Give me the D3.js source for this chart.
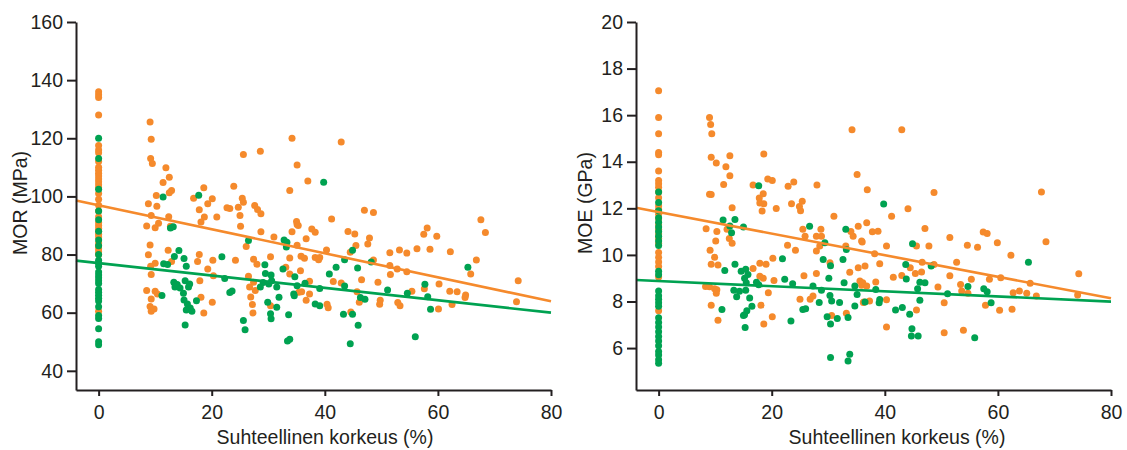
<!DOCTYPE html>
<html>
<head>
<meta charset="utf-8">
<script src="https://cdn.jsdelivr.net/npm/d3@7"></script>
<style>
  html, body { margin: 0; padding: 0; background: #fff; }
  svg { display: block; }
  text { font-family: "Liberation Sans", Arial, Helvetica, sans-serif; fill: #231f20; }
</style>
</head>
<body>
<svg id="chart" width="1127" height="450"></svg>
<script>
// Relative height (%) vs. strength/stiffness, two groups (orange, green)
const xTicks = [0, 20, 40, 60, 80];
const morTicks = [40, 60, 80, 100, 120, 140, 160];
const moeTicks = [6, 8, 10, 12, 14, 16, 18, 20];

// MOR (MPa)
const morOrange = [
  [0,136],[0,135],[0,134],[0,128],[0,117.5],[0,116],[0,115],[0,112],[0,110],[0,109],[0,108],[0,107],[0,106],
  [0,105],[0,104],[0,103],[0,101],[0,99],[0,97],[0,95],[0,93],[0,91],[0,90],[0,89],[0,88],[0,87],[0,86],
  [0,84],[0,83],[0,82],[0,81],[0,80],[0,60.5],
  [9.1,125.6],[9.3,119.7],[9.2,113],[9.5,111.3],[11.9,109.9],[12.5,106.6],[11.4,104.8],[12.9,102],[12.5,101.3],
  [10.2,100.3],[8.8,97.5],[10.3,96.6],[9.3,93.4],[12.4,93],[8.5,89.8],[10.6,90.8],[10,89.2],[12.7,89.7],
  [9.1,83.3],[8.8,79.9],[12.3,81.5],[10,77],[9.2,76],[9.3,73.1],[12.9,77.6],[8.5,67.6],[10,67.4],[10.4,66.4],
  [9.3,64.7],[9.1,62.1],[9.8,61.3],[9.3,60.5],[16.8,99.4],[18.6,103],[19.3,97.5],[20.1,99.2],[17.8,95.4],
  [18.7,92.9],[20.9,92.9],[18.1,91.2],[22.7,96.1],[23.2,95.8],[23.9,103.5],[25.6,114.4],[28.6,115.5],[24.7,96.3],
  [25.6,98],[25.4,99.4],[27.6,96.9],[28.1,95.5],[28.7,94],[25.1,89.7],[25,93.4],[28.7,87.8],[31,86],[26.1,82.8],
  [34.2,120],[35.1,110.8],[33.8,102],[34.2,87.8],[35.1,90.3],[33.1,75.6],[33.8,78.8],[30.4,79.2],[24.2,78],
  [27.4,78.4],[28,76.7],[17.8,80],[17.5,77.6],[19.3,75],[20.2,78],[20.3,72.7],[17.9,71],[26.5,72.5],[27.4,70.5],
  [26.7,68.8],[27.7,67.6],[26.9,65.4],[27.2,62.8],[27.3,59.9],[20.1,63.6],[18.6,59.9],[18.1,65.3],[30.4,62.4],
  [35.4,67],[42.9,118.7],[37,105.3],[47,95.2],[48.6,94.5],[41.2,92.2],[35,91.4],[35.3,90],[37.7,88.8],
  [38.3,87.7],[36.7,85.4],[44.1,87.9],[45.3,87.1],[47.9,85.7],[47.6,83.6],[45.5,83.1],[44.5,80.8],[40.3,81.6],
  [35.1,83.2],[35.8,79.4],[36.4,78.7],[38.3,79],[39.1,79],[38.9,78.2],[48.6,78.1],[51.5,80.6],[53.2,81.6],
  [54.5,80.5],[56.3,82],[57.5,87],[58.1,89.1],[59.8,86.3],[58.6,81.8],[62.2,81],[67.6,92],[68.4,87.6],
  [66.8,78.1],[65.8,73.3],[60.2,69.9],[62.1,67.4],[63.4,67.2],[64.9,66.1],[64.8,65.2],[62.5,62.8],[60.1,61.3],
  [74.2,71],[73.9,63.8],[51.5,76.2],[52.8,75],[54.5,74.1],[51.6,73.1],[55.4,67.4],[57.6,68.2],[49.4,70.5],
  [46.5,71.3],[42.9,70.2],[41.5,70.7],[37.3,70.8],[35.7,74.4],[33.8,73.3],[35.9,67.2],[37.3,66.4],[36.7,64.3],
  [40.4,62.9],[40.6,61.7],[44.6,60.2],[45.7,67.2],[46.1,63.6],[49.8,64.3],[49.7,62.9],[52.9,63.5],[53.3,62.4]
];
const morGreen = [
  [0,120],[0,113],[0,102.5],[0,95],[0,92],[0,88],[0,85],[0,83],[0,80],[0,78],[0,77],[0,76],[0,74],[0,73],
  [0,72],[0,71],[0,70],[0,68],[0,67],[0,66],[0,65],[0,64],[0,62],[0,59],[0,58],[0,54.5],[0,50],[0,49],
  [11.4,99.8],[17.7,100.4],[12.7,89.1],[13.2,89.6],[14.2,81.4],[13.4,79.3],[15.1,78.6],[15.5,76],[11.5,76.8],
  [12.2,76.6],[11.2,65.9],[13.3,70.5],[13.9,69.7],[13.5,68.8],[14.4,68.5],[15.3,71],[16.1,69.9],[15.9,68.8],
  [15,66.7],[15.1,64.4],[15.7,63],[16.2,61.6],[15.5,60.9],[16.5,60.5],[17.3,64.1],[15.3,55.8],[21.8,79.2],
  [22.3,71.8],[23.6,67.5],[23.2,66.9],[26.5,84.8],[29.4,76.5],[29.5,73.5],[29.1,70.4],[30.5,73],[30.6,71],
  [30.1,69.9],[28.6,68.8],[29.9,63.6],[30.4,59.6],[30.5,57.9],[25.6,57.3],[25.9,54.1],[31.5,68.8],[31.9,65.3],
  [31.5,61.9],[32.6,75],[32.8,85],[33.3,84.2],[33.6,59.3],[33.8,50.9],[33.4,50.3],[34.5,66.4],[35.1,69.3],
  [39.8,104.9],[33.2,82.6],[44.9,81.5],[43.5,78.2],[42,75.6],[40.8,73.3],[45.8,75.4],[48.2,77.4],[34.7,72.4],
  [36.5,70.1],[34.6,65.8],[39.1,68.3],[43.5,69.2],[38.3,63],[39.1,62.4],[43.3,59.5],[44.9,59.5],[45.9,55.7],
  [46.3,65.2],[47.1,64.6],[51.1,67.8],[54.6,66.7],[57.7,69.8],[58.2,65.5],[58.7,61.2],[65.3,75.6],[56,51.7],
  [44.5,49.3]
];

// MOE (GPa)
const moeOrange = [
  [0,17.05],[0,15.9],[0,15.2],[0,14.4],[0,14.3],[0,13.6],[0,13.2],[0,13.05],[0,12.9],[0,12.7],[0,12.45],
  [0,12.1],[0,11.95],[0,11.75],[0,11.55],[0,11.3],[0,11.1],[0,10.9],[0,10.7],[0,10.5],[0,10.1],[0,9.9],
  [0,9.7],[0,9.5],[0,9.05],[0,7.6],
  [9.0,15.9],[9.2,15.6],[9.4,15.2],[9.3,14.19],[10.2,13.95],[12.6,14.26],[11.9,13.78],[12.6,13.4],[11.5,13.02],
  [9.0,12.6],[9.3,12.59],[18.6,14.33],[19.3,13.26],[20.1,13.2],[16.7,13],[17.8,12.44],[18.5,12.63],[17.9,12.23],
  [18.6,12.2],[18.3,11.88],[20.8,11.99],[13.0,12.02],[22.9,12.95],[23.9,13.13],[28.0,13],[23.5,12.2],[25.4,12.3],
  [24.9,12.08],[25.1,11.9],[31,11.66],[34.2,15.37],[35.1,13.45],[36.9,12.8],[36.8,11.38],[35.3,11.23],[34.4,10.8],
  [34,11.0],[35.9,10.6],[33.1,10.38],[25.5,11.1],[25.9,10.8],[27.9,10.8],[28.7,11.1],[28.8,10.8],[28.5,10.38],
  [27.9,10.17],[22.8,10.42],[24.2,10.2],[8.4,11.12],[10.3,11.0],[10.1,10.6],[12.1,11.1],[12.5,10.7],[13.0,10.5],
  [9.1,10.2],[9.9,9.9],[9.3,9.6],[10.5,9.57],[20.2,9.86],[17.9,9.64],[19.0,9.6],[17.9,9.08],[18.5,9.0],[20.4,8.9],
  [16.7,9.42],[8.3,8.64],[9.0,8.63],[9.9,8.55],[10.3,8.5],[10.2,8.35],[9.3,7.84],[10.5,7.2],[19.4,8.38],[18.1,7.84],
  [20.1,7.35],[18.6,7.03],[25.7,9.1],[27.9,9.2],[27.3,8.24],[26.8,8.1],[25.0,8.1],[30.3,9.66],[30.6,7.4],[33.2,7.49],
  [33.8,9.26],[35.3,9.45],[35.6,8.88],[35.9,8.7],[36.2,7.96],
  [43,15.37],[48.7,12.68],[67.7,12.7],[44.1,11.98],[41.2,11.66],[37.8,10.99],[38.8,11.02],[47.1,11.13],[36,10.55],
  [40.3,10.38],[45.6,10.38],[47.8,10.38],[51.5,10.75],[54.6,10.42],[56.4,10.33],[57.4,10.98],[58.1,10.92],
  [59.9,10.52],[62.3,9.99],[68.5,10.56],[74.3,9.19],[74.1,8.28],[38.2,10.05],[39.1,9.62],[36.5,9.52],[46.6,9.69],
  [48.7,9.59],[52.7,9.69],[44.5,9.45],[45.4,9.2],[46.5,9.27],[41.5,9.04],[43,9.12],[51.5,9.1],[55.3,8.95],
  [58.5,8.95],[60.5,9.02],[65.7,8.78],[36.1,8.81],[36.8,8.67],[38.4,8.84],[49.4,8.62],[53.4,8.73],[53.6,8.45],
  [54.7,8.35],[62.7,8.38],[63.8,8.45],[65.1,8.35],[66.8,8.24],[36.3,7.98],[37.3,8.02],[40.3,8.07],[50.5,7.95],
  [45.6,7.64],[57.8,7.84],[60.3,7.62],[62.5,7.67],[40.3,6.9],[50.5,6.66],[53.9,6.76]
];
const moeGreen = [
  [0,12.7],[0,12.25],[0,11.9],[0,11.6],[0,11.4],[0,11.2],[0,11.0],[0,10.8],[0,10.6],[0,10.4],[0,9.3],[0,9.15],
  [0,8.45],[0,8.25],[0,8.1],[0,7.95],[0,7.8],[0,7.3],[0,7.1],[0,6.9],[0,6.7],[0,6.5],[0,6.3],[0,6.1],[0,5.85],
  [0,5.7],[0,5.5],[0,5.35],
  [17.7,12.97],[11.4,11.5],[13.5,11.52],[12.6,11.24],[12.9,10.95],[15.0,11.2],[26.7,11.23],[29.4,10.52],[33.1,11.1],
  [33.2,10.23],[29.1,9.8],[30.4,9.54],[30.1,9.0],[32.6,9.8],[32.8,8.8],[34.7,8.66],[35.1,8.3],[21.9,9.84],
  [22.3,8.95],[23.7,8.76],[11.7,9.33],[13.5,9.6],[14.6,9.3],[15.4,9.38],[15.8,9.16],[15.2,9.0],[15.5,8.8],
  [17.3,8.83],[17.7,8.72],[13.3,8.48],[14.3,8.44],[15.4,8.48],[13.8,8.2],[16.1,8.15],[16.5,7.8],[15.6,7.6],
  [15.2,7.43],[15.0,7.4],[11.2,7.66],[15.3,6.88],[23.4,7.16],[25.5,7.66],[26.0,7.69],[27.3,8.66],[28.8,8.48],
  [28.4,7.96],[30.3,8.26],[30.6,8.02],[32.0,7.96],[31.6,7.27],[29.8,7.34],[30.4,7.03],[33.5,7.31],[30.4,5.6],
  [33.8,5.74],[33.5,5.45],
  [39.8,12.19],[44.9,10.48],[43.7,9.59],[48.2,9.52],[43.8,8.97],[46.2,8.83],[47.1,8.8],[45.8,8.55],[38.4,8.52],
  [36.5,7.98],[39.1,8.09],[39,7.95],[34.7,7.81],[41.9,7.64],[43.1,7.74],[44.4,7.45],[46.2,8.05],[51.1,8.33],
  [54.7,8.64],[57.5,8.55],[58.1,8.42],[58.8,7.95],[65.4,9.69],[44.8,6.83],[44.7,6.52],[45.9,6.52],[55.9,6.44]
];

// Linear fits: [intercept, slope]
const morFitOrange = [96.95, -0.413];
const morFitGreen = [77.05, -0.213];
const moeFitOrange = [11.84, -0.0463];
const moeFitGreen = [8.876, -0.0110];

const ORANGE = "#f58a2c";
const GREEN = "#00a251";
const INK = "#231f20";

const svg = d3.select("#chart");

function panel(opts) {
  const x = d3.scaleLinear().domain([-4, 80]).range([opts.left, opts.left + 475]);
  const y = d3.scaleLinear().domain(opts.yDomain).range([390, 22]);
  const g = svg.append("g");

  // points
  const drawPts = (data, color) => g.append("g").selectAll("circle").data(data).join("circle")
    .attr("cx", d => x(d[0])).attr("cy", d => y(d[1])).attr("r", 3.5).attr("fill", color);
  drawPts(opts.orange, ORANGE);
  drawPts(opts.green, GREEN);

  // fitted lines
  const [x0, x1] = x.domain();
  const drawFit = (fit, color) => g.append("line")
    .attr("x1", x(x0)).attr("y1", y(fit[0] + fit[1] * x0))
    .attr("x2", x(x1)).attr("y2", y(fit[0] + fit[1] * x1))
    .attr("stroke", color).attr("stroke-width", 2.6);
  drawFit(opts.fitOrange, ORANGE);
  drawFit(opts.fitGreen, GREEN);

  // axes
  const xAxis = d3.axisBottom(x).tickValues(xTicks).tickSize(6).tickSizeOuter(0).tickPadding(9);
  const yAxis = d3.axisLeft(y).tickValues(opts.yTicks).tickSize(9).tickSizeOuter(0).tickPadding(4);
  const gx = g.append("g").attr("transform", "translate(0,390)").call(xAxis);
  const gy = g.append("g").attr("transform", `translate(${opts.left},0)`).call(yAxis);
  [gx, gy].forEach(a => {
    a.select(".domain").attr("stroke", INK).attr("stroke-width", 2);
    a.selectAll(".tick line").attr("stroke", INK).attr("stroke-width", 2);
    a.selectAll(".tick text").attr("fill", INK).style("font-size", "19.5px")
      .style("font-family", '"Liberation Sans", Arial, sans-serif');
  });

  g.append("text")
    .attr("x", opts.xTitleX).attr("y", 444)
    .attr("text-anchor", "middle").style("font-size", "19.5px")
    .text("Suhteellinen korkeus (%)");

  g.append("text")
    .attr("transform", `translate(${opts.yTitleX},203) rotate(-90)`)
    .attr("text-anchor", "middle").style("font-size", "19.5px")
    .text(opts.yTitle);
}

panel({
  left: 76, yDomain: [33.4, 160], yTicks: morTicks,
  orange: morOrange, green: morGreen, fitOrange: morFitOrange, fitGreen: morFitGreen,
  xTitleX: 325, yTitleX: 27, yTitle: "MOR (MPa)"
});
panel({
  left: 636, yDomain: [4.2, 20], yTicks: moeTicks,
  orange: moeOrange, green: moeGreen, fitOrange: moeFitOrange, fitGreen: moeFitGreen,
  xTitleX: 897, yTitleX: 592, yTitle: "MOE (GPa)"
});
</script>
</body>
</html>
